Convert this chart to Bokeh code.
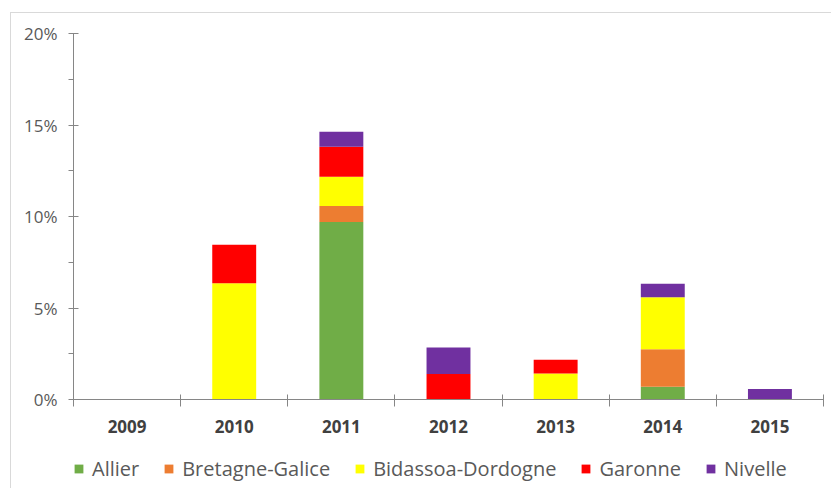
from bokeh.plotting import figure
from bokeh.layouts import column
from bokeh.models import (Range1d, FixedTicker, PrintfTickFormatter, Legend,
                          ColumnDataSource, LinearAxis)
from bokeh.embed import file_html
from bokeh.resources import INLINE

years = ["2009", "2010", "2011", "2012", "2013", "2014", "2015"]
series = ["Allier", "Bretagne-Galice", "Bidassoa-Dordogne", "Garonne", "Nivelle"]
allier = [0, 0, 9.7, 0, 0, 0.69, 0]
bretagne = [0, 0, 0.87, 0, 0, 2.06, 0]
bidassoa = [0, 6.35, 1.6, 0, 1.42, 2.84, 0]
garonne = [0, 2.1, 1.64, 1.4, 0.75, 0, 0]
nivelle = [0, 0, 0.82, 1.44, 0, 0.73, 0.58]
colors = ["#70AD47", "#ED7D31", "#FFFF00", "#FF0000", "#7030A0"]
y_ticks = [0, 5, 10, 15, 20]
y_minor = [2.5, 7.5, 12.5, 17.5]

n = len(years)
xpos = [i + 0.5 for i in range(n)]
data = {"x": xpos, "Allier": allier, "Bretagne-Galice": bretagne,
        "Bidassoa-Dordogne": bidassoa, "Garonne": garonne, "Nivelle": nivelle}
source = ColumnDataSource(data)

font = "Open Sans"
axis_color = "#868686"

p = figure(width=820, height=432, output_backend="svg", toolbar_location=None,
           x_range=Range1d(0, n), y_range=Range1d(0, 20),
           x_axis_location=None, y_axis_location=None,
           min_border_left=62, min_border_right=8, min_border_top=20,
           min_border_bottom=46)
p.outline_line_color = None
p.grid.visible = False
p.background_fill_color = "white"
p.border_fill_color = "white"

p.vbar_stack(series, x="x", width=0.41, color=colors, source=source,
             line_color=None)

yaxis = LinearAxis(ticker=FixedTicker(ticks=y_ticks, minor_ticks=y_minor),
                   formatter=PrintfTickFormatter(format="%d%%"))
yaxis.axis_line_color = axis_color
yaxis.major_tick_line_color = axis_color
yaxis.minor_tick_line_color = axis_color
yaxis.major_tick_in = 5
yaxis.major_tick_out = 5
yaxis.minor_tick_in = 0
yaxis.minor_tick_out = 5
yaxis.major_label_standoff = 11
yaxis.major_label_text_font = font
yaxis.major_label_text_font_size = "17px"
yaxis.major_label_text_color = "#595959"
p.add_layout(yaxis, "left")

xaxis = LinearAxis(ticker=FixedTicker(ticks=xpos, minor_ticks=list(range(n + 1))))
xaxis.major_label_overrides = {x: y for x, y in zip(xpos, years)}
xaxis.axis_line_color = axis_color
xaxis.major_tick_line_color = None
xaxis.major_tick_in = 0
xaxis.major_tick_out = 0
xaxis.minor_tick_line_color = axis_color
xaxis.minor_tick_in = 5
xaxis.minor_tick_out = 7
xaxis.major_label_standoff = 13
xaxis.major_label_text_font = font
xaxis.major_label_text_font_size = "17px"
xaxis.major_label_text_font_style = "bold"
xaxis.major_label_text_color = "#404040"
p.add_layout(xaxis, "below")

# legend strip below the chart (its bars sit outside its visible range)
leg = figure(width=820, height=43, output_backend="svg", toolbar_location=None,
             x_range=Range1d(0, n), y_range=Range1d(100, 101),
             x_axis_location=None, y_axis_location=None,
             min_border_left=0, min_border_right=0, min_border_top=0,
             min_border_bottom=0)
leg.outline_line_color = None
leg.grid.visible = False
leg.border_fill_color = "white"
leg_renderers = leg.vbar_stack(series, x="x", width=0.41, color=colors,
                               source=source, line_color=None)
legend = Legend(items=[(s, [r]) for s, r in zip(series, leg_renderers)],
                orientation="horizontal", location=(0, 6))
legend.label_text_font = font
legend.label_text_font_size = "20px"
legend.label_text_color = "#595959"
legend.glyph_width = 11
legend.glyph_height = 11
legend.label_standoff = 8
legend.spacing = 24
legend.padding = 0
legend.margin = 0
legend.border_line_color = None
legend.background_fill_alpha = 0
leg.add_layout(legend, "center")

layout = column(p, leg, spacing=0)
layout.margin = (12, 0, 0, 10)
layout.styles = {"border-top": "1px solid #d9d9d9",
                 "border-left": "1px solid #d9d9d9"}

open("out.html", "w").write(file_html(layout, INLINE))
